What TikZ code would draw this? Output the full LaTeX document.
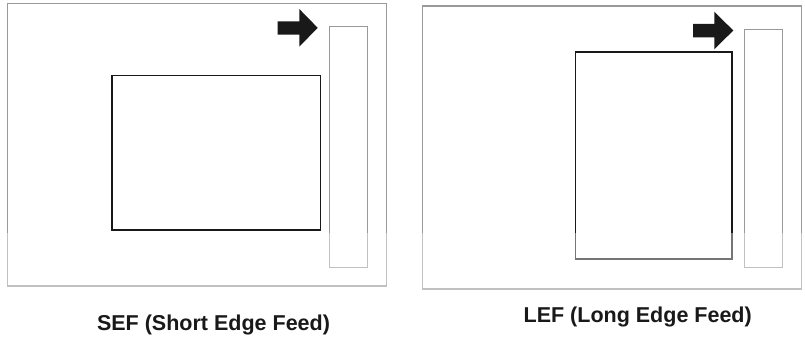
\documentclass[tikz,border=0pt]{standalone}
\usepackage{fontspec}
\setmainfont{Liberation Sans}
\begin{document}
\begin{tikzpicture}[x=1pt,y=-1pt,
  frame/.style={draw=black!40,line width=1.1pt},
  sheet/.style={draw=black!90,line width=1.6pt},
  slot/.style={draw=black!40,line width=1.1pt},
  feedarrow/.style={fill=black!90,draw=none},
  caption/.style={font=\fontsize{21.5}{24}\selectfont\bfseries,text=black!90,inner sep=0pt,anchor=base}]
\useasboundingbox[fill=white] (0,0) rectangle (805,345);

% Short edge feed tray
\draw[frame] (7.3,3.7) rectangle (386.7,286);
\draw[sheet] (111.7,75.3) rectangle (320.3,230);
\draw[slot] (329.7,26.3) rectangle (367.7,267.3);
\fill[feedarrow] (277.7,21.3) -- (299.3,21.3) -- (299.3,9) -- (317.7,27.8)
  -- (299.3,46.7) -- (299.3,34.7) -- (277.7,34.7) -- cycle;

% Long edge feed tray
\draw[frame] (422.7,6) rectangle (801.7,289);
\draw[sheet] (575.3,52) rectangle (732,258.7);
\draw[slot] (744.7,29.3) rectangle (782.3,267.3);
\fill[feedarrow] (693,24) -- (714.3,24) -- (714.3,11.7) -- (733.3,30.5)
  -- (714.3,49.3) -- (714.3,37.3) -- (693,37.3) -- cycle;

% faded lower band
\fill[white,opacity=0.4] (0,233) rectangle (805,300);

\node[caption] (sef) at (213.5,330) {SEF (Short Edge Feed)};
\node[caption] (lef) at (637.7,322.7) {LEF (Long Edge Feed)};
\end{tikzpicture}
\end{document}
